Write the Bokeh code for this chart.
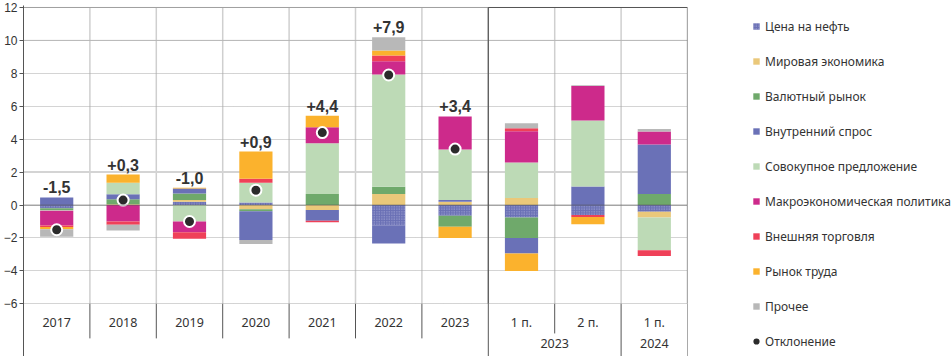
import numpy as np
from bokeh.plotting import figure
from bokeh.models import (Range1d, LinearAxis, FixedTicker, ColumnDataSource, Legend,
                          LegendItem, Span, Grid, CDSView, IndexFilter)
from bokeh.core.properties import value
from bokeh.embed import file_html
from bokeh.resources import INLINE

# ---------------- data ----------------
categories = ["2017", "2018", "2019", "2020", "2021", "2022", "2023", "1 п.", "2 п.", "1 п."]
groups = ["", "", "", "", "", "", "", "2023", "2023", "2024"]

oil      = [-0.20, 0.00, 0.20, 0.15, 0.00, -1.26, -0.65, -0.75, -0.60, -0.41]
world    = [0.00, 0.05, 0.10, -0.25, -0.30, 0.67, 0.20, 0.43, 0.00, -0.34]
fx       = [-0.10, 0.30, 0.40, -0.13, 0.67, 0.44, -0.67, -1.25, 0.00, 0.67]
domestic = [0.46, 0.30, 0.30, -1.75, -0.65, -1.07, 0.10, -0.94, 1.13, 3.00]
supply   = [-0.05, 0.70, -1.00, 1.20, 3.08, 6.82, 3.08, 2.16, 4.00, -2.00]
macro    = [-0.90, -1.00, -0.65, 0.00, 0.97, 0.81, 2.00, 1.89, 2.10, 0.79]
trade    = [-0.08, -0.20, -0.40, 0.25, -0.10, 0.34, 0.00, 0.18, -0.12, -0.34]
labor    = [-0.14, 0.50, 0.05, 1.65, 0.70, 0.31, -0.68, -1.06, -0.45, 0.00]
other    = [-0.45, -0.35, 0.00, -0.24, 0.00, 0.80, 0.00, 0.31, 0.05, 0.16]

deviation = [-1.5, 0.3, -1.0, 0.9, 4.4, 7.9, 3.4]
deviation_labels = ["-1,5", "+0,3", "-1,0", "+0,9", "+4,4", "+7,9", "+3,4"]

y_ticks = [-6, -4, -2, 0, 2, 4, 6, 8, 10, 12]

series_names = ["Цена на нефть", "Мировая экономика", "Валютный рынок", "Внутренний спрос",
                "Совокупное предложение", "Макроэкономическая политика", "Внешняя торговля",
                "Рынок труда", "Прочее"]
series_values = [oil, world, fx, domestic, supply, macro, trade, labor, other]
series_colors = ["#6a70b5", "#eac87a", "#6fa96b", "#6a71b7", "#bddab6", "#cd2a8b",
                 "#ef4058", "#fbb22d", "#b8b8b8"]

# ---------------- figure ----------------
n = len(categories)
xc = np.arange(n) + 0.5
y_bottom = -9.2

p = figure(frame_width=664, frame_height=351, x_range=Range1d(0, n), y_range=Range1d(y_bottom, 12.12),
           x_axis_type=None, y_axis_type=None, output_backend="svg", toolbar_location=None,
           min_border_left=20, min_border_right=0, min_border_top=5, min_border_bottom=0)
p.outline_line_color = None
p.background_fill_color = "white"

yaxis = LinearAxis(ticker=FixedTicker(ticks=y_ticks))
yaxis.axis_line_color = "#555555"
yaxis.major_tick_line_color = "#555555"
yaxis.major_tick_out = 4
yaxis.major_tick_in = 0
yaxis.minor_tick_line_color = None
yaxis.major_label_standoff = 2
yaxis.major_label_text_font = "Liberation Sans"
yaxis.major_label_text_font_size = "12px"
yaxis.major_label_text_color = "#333333"
p.add_layout(yaxis, "left")

grid = Grid(dimension=1, ticker=FixedTicker(ticks=y_ticks), grid_line_color="#a8a8a8",
            grid_line_dash="1 1", grid_line_width=1)
p.add_layout(grid)

p.add_layout(Span(location=y_ticks[-1], dimension="width", line_color="#a0a0a0", line_width=1, level="underlay"))
p.add_layout(Span(location=10, dimension="width", line_color="#b8b8b8", line_width=1, level="underlay"))
p.add_layout(Span(location=2, dimension="width", line_color="#d4d4d4", line_width=2, level="underlay"))

# vertical separators
bounds = list(range(1, n))
inner_src = ColumnDataSource(dict(x=bounds, y0=[y_ticks[0]] * len(bounds), y1=[y_ticks[-1]] * len(bounds)))
p.segment(x0="x", y0="y0", x1="x", y1="y1", source=inner_src, line_color="#cfcfcf", line_width=1.5, level="underlay")

low_bounds, low_ends = [], []
for b in range(0, n + 1):
    left = groups[b - 1] if b > 0 else None
    right = groups[b] if b < n else None
    low_bounds.append(b)
    if b >= 7:
        low_ends.append(-7.8 if left == right else y_bottom)
    else:
        low_ends.append(-8.1)
low_src = ColumnDataSource(dict(x=low_bounds, y0=[y_ticks[0]] * len(low_bounds), y1=low_ends))
p.segment(x0="x", y0="y0", x1="x", y1="y1", source=low_src, line_color="#555555", line_width=1)

# box around half-year block
first_half = groups.index("2023")
box_src = ColumnDataSource(dict(x=[first_half, n], y0=[y_ticks[0]] * 2, y1=[y_ticks[-1]] * 2))
p.segment(x0="x", y0="y0", x1="x", y1="y1", source=box_src, line_color="#555555", line_width=1.2)
p.segment(x0=[first_half], y0=[y_ticks[-1]], x1=[n], y1=[y_ticks[-1]], line_color="#555555", line_width=1.2)

# stacked bars
pos_base = np.zeros(n)
neg_base = np.zeros(n)
items = []
for name, vals, col in zip(series_names, series_values, series_colors):
    v = np.array(vals, dtype=float)
    bottom = np.where(v >= 0, pos_base, neg_base)
    top = bottom + v
    pos_base = np.where(v >= 0, top, pos_base)
    neg_base = np.where(v < 0, top, neg_base)
    src = ColumnDataSource(dict(x=xc, bottom=bottom, top=top))
    kw = {}
    if name == "Цена на нефть":
        kw = dict(hatch_pattern="dot", hatch_color="#c9cbea", hatch_alpha=0.7, hatch_scale=2.5, hatch_weight=1)
    r = p.vbar(x="x", bottom="bottom", top="top", width=0.5, source=src, fill_color=col,
               line_color=None, **kw)
    items.append(LegendItem(label=name, renderers=[r]))

# zero line on top
p.add_layout(Span(location=0, dimension="width", line_color="#555555", line_width=1.2,
                  line_dash="1 1", level="overlay"))

# deviation dots and labels
nd = len(deviation)
dot_src = ColumnDataSource(dict(x=xc[:nd], y=deviation))
# legend-only renderer (drawn first, fully hidden under the real first dot)
dot_legend = p.scatter(x="x", y="y", source=dot_src, view=CDSView(filter=IndexFilter([0])),
                       size=5, fill_color="#2b2b2b", line_color="#2b2b2b", line_width=3)
p.scatter(x="x", y="y", source=dot_src, size=11, fill_color="#2b2b2b", line_color="white", line_width=2)
items.append(LegendItem(label="Отклонение", renderers=[dot_legend], index=0))

p.text(x=xc[:nd], y=pos_base[:nd], text=deviation_labels, text_align="center", text_baseline="bottom",
       y_offset=-4, text_font=value("Liberation Sans"), text_font_style="bold",
       text_font_size="16px", text_color="#333333")

# category labels
p.text(x=xc, y=[y_ticks[0]] * n, text=categories, text_align="center", text_baseline="middle",
       y_offset=19, text_font=value("Noto Sans"), text_font_size="12.5px", text_color="#333333")
grp_names, grp_x = [], []
for g in dict.fromkeys(groups):
    if g:
        idx = [i for i, gg in enumerate(groups) if gg == g]
        grp_names.append(g)
        grp_x.append(float(np.mean(xc[idx])))
p.text(x=grp_x, y=[y_ticks[0]] * len(grp_x), text=grp_names, text_align="center", text_baseline="middle",
       y_offset=40, text_font=value("Noto Sans"), text_font_size="12.5px", text_color="#333333")

legend = Legend(items=items, location=(65, 5), orientation="vertical",
                glyph_width=8, glyph_height=8, label_height=20, spacing=15, padding=0, margin=0,
                label_standoff=5, label_text_font="Noto Sans", label_text_font_size="12px",
                label_text_color="#333333", border_line_color=None, background_fill_alpha=0)
p.add_layout(legend, "right")

open("out.html", "w").write(file_html(p, INLINE))
